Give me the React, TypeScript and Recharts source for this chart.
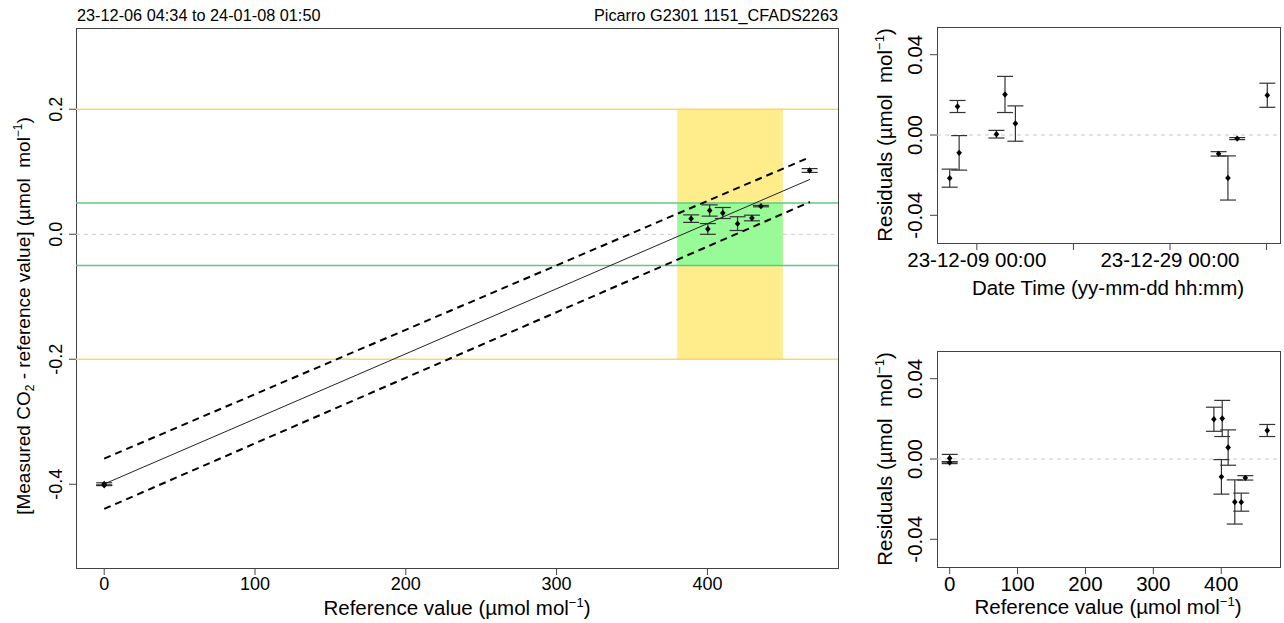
import React from 'react';
import {
  ComposedChart,
  Scatter,
  XAxis,
  YAxis,
  ErrorBar,
  ReferenceLine,
  ReferenceArea,
} from 'recharts';

// measurements, in time order
const sampleTimes = [
  '2023-12-06 04:34', '2023-12-07 00:00', '2023-12-07 04:00', '2023-12-11 00:45', '2023-12-11 22:00',
  '2023-12-12 23:50', '2024-01-03 00:45', '2024-01-04 00:00', '2024-01-04 23:00', '2024-01-08 01:50',
];
const refValues = [429.5, 467.8, 400.3, 0.0, 401.5, 410.2, 435.5, 420.0, 0.0, 389.2];
const measuredDiff = [0.026, 0.102, 0.0085, -0.3995, 0.038, 0.034, 0.045, 0.017, -0.4017, 0.025];
const residuals = [-0.0215, 0.0142, -0.0089, 0.0004, 0.0202, 0.0057, -0.0094, -0.0214, -0.0018, 0.0198];
const uncertainty = [0.0045, 0.003, 0.0086, 0.0019, 0.009, 0.0088, 0.0011, 0.011, 0.0005, 0.006];

// regression line and its bounds
const fitX = [0, 468];
const fitY = [-0.3996, 0.0878];
const upperY = [-0.359, 0.1234];
const lowerY = [-0.4395, 0.0516];

// acceptance limits
const greenLimit = 0.05;
const yellowLimit = 0.2;
const bandRef = [380, 450];

const refTicks = [0, 100, 200, 300, 400];
const diffTicks = [-0.4, -0.2, 0, 0.2];
const residTicks = [-0.04, 0, 0.04];
const dateTicks = ['2023-12-09 00:00', '2023-12-19 00:00', '2023-12-29 00:00', '2024-01-08 00:00'];
const dateLabels = ['23-12-09 00:00', '', '23-12-29 00:00', ''];
const dateRange = ['2023-12-04 21:00', '2024-01-09 09:24'];

const FONT = '"Liberation Sans", Arial, Helvetica, sans-serif';

const toMs = (s: string) => {
  const [d, t] = s.split(' ');
  const [Y, M, D] = d.split('-').map(Number);
  const [h, m] = t.split(':').map(Number);
  return Date.UTC(Y, M - 1, D, h, m);
};

const mainPts = refValues.map((x, i) => ({ x, y: measuredDiff[i], err: uncertainty[i] }));
const timePts = sampleTimes.map((t, i) => ({ x: toMs(t), y: residuals[i], err: uncertainty[i] }));
const refPts = refValues.map((x, i) => ({ x, y: residuals[i], err: uncertainty[i] }));
const fitPts = fitX.map((x, i) => ({ x, y: fitY[i] }));
const upperPts = fitX.map((x, i) => ({ x, y: upperY[i] }));
const lowerPts = fitX.map((x, i) => ({ x, y: lowerY[i] }));
const dateTickMs = dateTicks.map(toMs);

const refDomain: [number, number] = [-18.7, 486.6];
const diffDomain: [number, number] = [-0.534, 0.33];
const residDomain: [number, number] = [-0.0538, 0.0538];

const Diamond = (p: any) => {
  const { cx, cy } = p;
  if (cx == null || cy == null) return <g />;
  return <path d={`M${cx},${cy - 3.2}L${cx + 2.8},${cy}L${cx},${cy + 3.2}L${cx - 2.8},${cy}Z`} fill="#000" />;
};
const NoShape = () => <g />;

const vTick = (baseX: number, digits: number, size: number) => (p: any) => {
  const { y, payload } = p;
  return (
    <text
      x={baseX}
      y={y}
      transform={`rotate(-90 ${baseX} ${y})`}
      textAnchor="middle"
      fontSize={size}
      fontFamily={FONT}
      fill="#000"
    >
      {Number(payload.value).toFixed(digits)}
    </text>
  );
};

const frameStyle = { fill: 'none', stroke: '#444', strokeWidth: 1, shapeRendering: 'crispEdges' };
const SIDE = 20.5;

const MainChart = () => (
  <ComposedChart width={850} height={623} margin={{ top: 28, right: 12, left: 0, bottom: 0 }}>
    <XAxis
      dataKey="x"
      type="number"
      domain={refDomain}
      allowDataOverflow
      ticks={refTicks}
      interval={0}
      height={55}
      tickSize={7}
      axisLine={false}
      tickLine={{ stroke: '#444' }}
      tick={{ fontSize: 18, fill: '#000', fontFamily: FONT }}
    />
    <YAxis
      dataKey="y"
      type="number"
      domain={diffDomain}
      allowDataOverflow
      ticks={diffTicks}
      interval={0}
      width={76}
      tickSize={7}
      axisLine={false}
      tickLine={{ stroke: '#444' }}
      tick={vTick(61.5, 1, 18)}
    />
    <ReferenceLine segment={[{ x: refDomain[0], y: 0 }, { x: bandRef[0], y: 0 }]} stroke="#cccccc" strokeDasharray="4 4" />
    <ReferenceLine segment={[{ x: bandRef[1], y: 0 }, { x: refDomain[1], y: 0 }]} stroke="#cccccc" strokeDasharray="4 4" />
    <ReferenceArea x1={bandRef[0]} x2={bandRef[1]} y1={-yellowLimit} y2={yellowLimit} fill="#FFEC8B" fillOpacity={1} stroke="none" />
    <ReferenceArea x1={bandRef[0]} x2={bandRef[1]} y1={-greenLimit} y2={greenLimit} fill="#98FB98" fillOpacity={1} stroke="none" />
    <ReferenceLine y={yellowLimit} stroke="#FFD36A" strokeWidth={1.5} />
    <ReferenceLine y={-yellowLimit} stroke="#FFD36A" strokeWidth={1.5} />
    <ReferenceLine y={greenLimit} stroke="#5FC888" strokeWidth={1.5} />
    <ReferenceLine y={-greenLimit} stroke="#5FC888" strokeWidth={1.5} />
    <ReferenceArea x1={refDomain[0]} x2={refDomain[1]} y1={diffDomain[0]} y2={diffDomain[1]} ifOverflow="visible" {...frameStyle} />
    <Scatter data={upperPts} shape={NoShape} line={{ stroke: '#000', strokeWidth: 2, strokeDasharray: '7 5' }} isAnimationActive={false} />
    <Scatter data={lowerPts} shape={NoShape} line={{ stroke: '#000', strokeWidth: 2, strokeDasharray: '7 5' }} isAnimationActive={false} />
    <Scatter data={fitPts} shape={NoShape} line={{ stroke: '#222', strokeWidth: 1 }} isAnimationActive={false} />
    <Scatter data={mainPts} shape={Diamond} isAnimationActive={false}>
      <ErrorBar dataKey="err" direction="y" width={8} stroke="#333" strokeWidth={1.2} />
    </Scatter>
  </ComposedChart>
);

const ResidTimeChart = () => (
  <ComposedChart width={424} height={300} margin={{ top: 27, right: 4, left: 0, bottom: 0 }}>
    <XAxis
      dataKey="x"
      type="number"
      domain={[toMs(dateRange[0]), toMs(dateRange[1])]}
      allowDataOverflow
      ticks={dateTickMs}
      interval={0}
      height={57}
      tickSize={7}
      axisLine={false}
      tickLine={{ stroke: '#444' }}
      tickFormatter={(v: number) => dateLabels[dateTickMs.indexOf(v)] ?? ''}
      tick={{ fontSize: SIDE, fill: '#000', fontFamily: FONT }}
    />
    <YAxis
      dataKey="y"
      type="number"
      domain={residDomain}
      allowDataOverflow
      ticks={residTicks}
      interval={0}
      width={77}
      tickSize={7}
      axisLine={false}
      tickLine={{ stroke: '#444' }}
      tick={vTick(62, 2, SIDE)}
    />
    <ReferenceLine y={0} stroke="#cccccc" strokeDasharray="4 4" />
    <ReferenceArea
      x1={toMs(dateRange[0])}
      x2={toMs(dateRange[1])}
      y1={residDomain[0]}
      y2={residDomain[1]}
      ifOverflow="visible"
      {...frameStyle}
    />
    <Scatter data={timePts} shape={Diamond} isAnimationActive={false}>
      <ErrorBar dataKey="err" direction="y" width={8} stroke="#333" strokeWidth={1.2} />
    </Scatter>
  </ComposedChart>
);

const ResidRefChart = () => (
  <ComposedChart width={424} height={303} margin={{ top: 31, right: 4, left: 0, bottom: 0 }}>
    <XAxis
      dataKey="x"
      type="number"
      domain={refDomain}
      allowDataOverflow
      ticks={refTicks}
      interval={0}
      height={56}
      tickSize={7}
      axisLine={false}
      tickLine={{ stroke: '#444' }}
      tick={{ fontSize: SIDE, fill: '#000', fontFamily: FONT }}
    />
    <YAxis
      dataKey="y"
      type="number"
      domain={residDomain}
      allowDataOverflow
      ticks={residTicks}
      interval={0}
      width={77}
      tickSize={7}
      axisLine={false}
      tickLine={{ stroke: '#444' }}
      tick={vTick(62, 2, SIDE)}
    />
    <ReferenceLine y={0} stroke="#cccccc" strokeDasharray="4 4" />
    <ReferenceArea x1={refDomain[0]} x2={refDomain[1]} y1={residDomain[0]} y2={residDomain[1]} ifOverflow="visible" {...frameStyle} />
    <Scatter data={refPts} shape={Diamond} isAnimationActive={false}>
      <ErrorBar dataKey="err" direction="y" width={8} stroke="#333" strokeWidth={1.2} />
    </Scatter>
  </ComposedChart>
);

const txt = { fontFamily: FONT, fill: '#000', style: { whiteSpace: 'pre' as const } };

const Titles = () => (
  <svg width={1284} height={623} style={{ position: 'absolute', left: 0, top: 0, pointerEvents: 'none' }}>
    <text x={77} y={21} fontSize={16.3} {...txt}>23-12-06 04:34 to 24-01-08 01:50</text>
    <text x={838} y={21} fontSize={16.3} textAnchor="end" {...txt}>Picarro G2301 1151_CFADS2263</text>
    <text x={457} y={615} fontSize={20.5} textAnchor="middle" {...txt}>
      Reference value (µmol mol<tspan dy={-8} fontSize={13}>−1</tspan><tspan dy={8}>)</tspan>
    </text>
    <text x={30} y={316} fontSize={19} textAnchor="middle" transform="rotate(-90 30 316)" {...txt}>
      [Measured CO<tspan dy={4} fontSize={12}>2</tspan><tspan dy={-4}> - reference value] (µmol  mol</tspan>
      <tspan dy={-8} fontSize={12}>−1</tspan><tspan dy={8}>)</tspan>
    </text>
    <text x={1108} y={295} fontSize={SIDE} textAnchor="middle" {...txt}>Date Time (yy-mm-dd hh:mm)</text>
    <text x={1108} y={614} fontSize={SIDE} textAnchor="middle" {...txt}>
      Reference value (µmol mol<tspan dy={-8} fontSize={13}>−1</tspan><tspan dy={8}>)</tspan>
    </text>
    <text x={892} y={135} fontSize={SIDE} textAnchor="middle" transform="rotate(-90 892 135)" {...txt}>
      Residuals (µmol  mol<tspan dy={-8} fontSize={13}>−1</tspan><tspan dy={8}>)</tspan>
    </text>
    <text x={892} y={459} fontSize={SIDE} textAnchor="middle" transform="rotate(-90 892 459)" {...txt}>
      Residuals (µmol  mol<tspan dy={-8} fontSize={13}>−1</tspan><tspan dy={8}>)</tspan>
    </text>
  </svg>
);

export default function App() {
  return (
    <div style={{ position: 'absolute', left: 0, top: 0, width: 1284, height: 623, background: '#fff', overflow: 'hidden' }}>
      <div style={{ position: 'absolute', left: 0, top: 0 }}>
        <MainChart />
      </div>
      <div style={{ position: 'absolute', left: 860, top: 0 }}>
        <ResidTimeChart />
      </div>
      <div style={{ position: 'absolute', left: 860, top: 320 }}>
        <ResidRefChart />
      </div>
      <Titles />
    </div>
  );
}
